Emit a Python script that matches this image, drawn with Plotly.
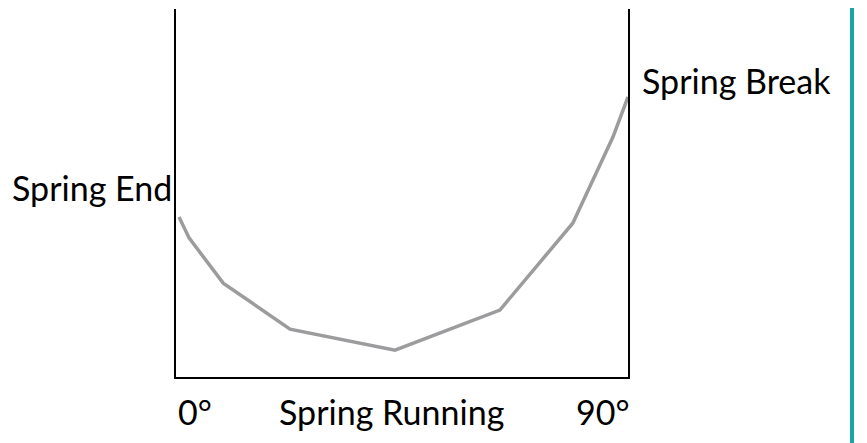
import plotly.graph_objects as go

# Data
angle = [0.6, 2.6, 9.4, 22.7, 43.6, 64.5, 79, 87, 90]
tension = [43.5, 37.8, 25.5, 13, 7.3, 18.2, 41.8, 65.2, 76.1]

x_tick_vals = [0, 90]
x_tick_text = ["0°", "90°"]
x_title = "Spring Running"
start_label = "Spring End"
end_label = "Spring Break"

FONT = "Lato, Open Sans, sans-serif"
FS = 34
# page body has an 8px default margin, so the figure is drawn 8px in from the window corner
OFF = 8
W, H = 867 - OFF, 443 - OFF
ML, MT = 176 - OFF, 9 - OFF
MR = W - (628 - OFF)
MB = H - (377 - OFF)

fig = go.Figure()
fig.add_trace(go.Scatter(
    x=angle, y=tension, mode="lines",
    line=dict(color="#9c9c9e", width=3.5),
    hoverinfo="skip", showlegend=False, cliponaxis=False,
))

font = dict(family=FONT, size=FS, color="#000")
annotations = [
    dict(x=x_tick_vals[0], y=0, xref="x", yref="y", text=x_tick_text[0],
         xanchor="left", yanchor="top", yshift=-12, showarrow=False, font=font),
    dict(x=x_tick_vals[1], y=0, xref="x", yref="y", text=x_tick_text[1],
         xanchor="right", yanchor="top", yshift=-12, xshift=4, showarrow=False, font=font),
    dict(x=43, y=0, xref="x", yref="y", text=x_title,
         xanchor="center", yanchor="top", yshift=-12, showarrow=False, font=font),
    dict(x=0, y=51.5, xref="x", yref="y", text=start_label,
         xanchor="right", yanchor="middle", xshift=-2, showarrow=False, font=font),
    dict(x=90, y=80.5, xref="x", yref="y", text=end_label,
         xanchor="left", yanchor="middle", xshift=12, showarrow=False, font=font),
]

teal_x = (852 - OFF - ML) / (W - ML - MR)
fig.update_layout(
    width=W, height=H,
    margin=dict(l=ML, r=MR, t=MT, b=MB, pad=0),
    paper_bgcolor="white", plot_bgcolor="white",
    annotations=annotations,
    xaxis=dict(range=[0, 90], showgrid=False, zeroline=False, showticklabels=False,
               ticks="", showline=True, linecolor="black", linewidth=2, mirror=False),
    yaxis=dict(range=[0, 100], showgrid=False, zeroline=False, showticklabels=False,
               ticks="", showline=True, linecolor="black", linewidth=2, mirror="all"),
    shapes=[dict(type="line", xref="paper", yref="paper",
                 x0=teal_x, x1=teal_x,
                 y0=-(MB + 20) / (H - MT - MB), y1=(H - MB + 20) / (H - MT - MB),
                 line=dict(color="#1aa5a5", width=4))],
)

fig.write_html("out.html")
